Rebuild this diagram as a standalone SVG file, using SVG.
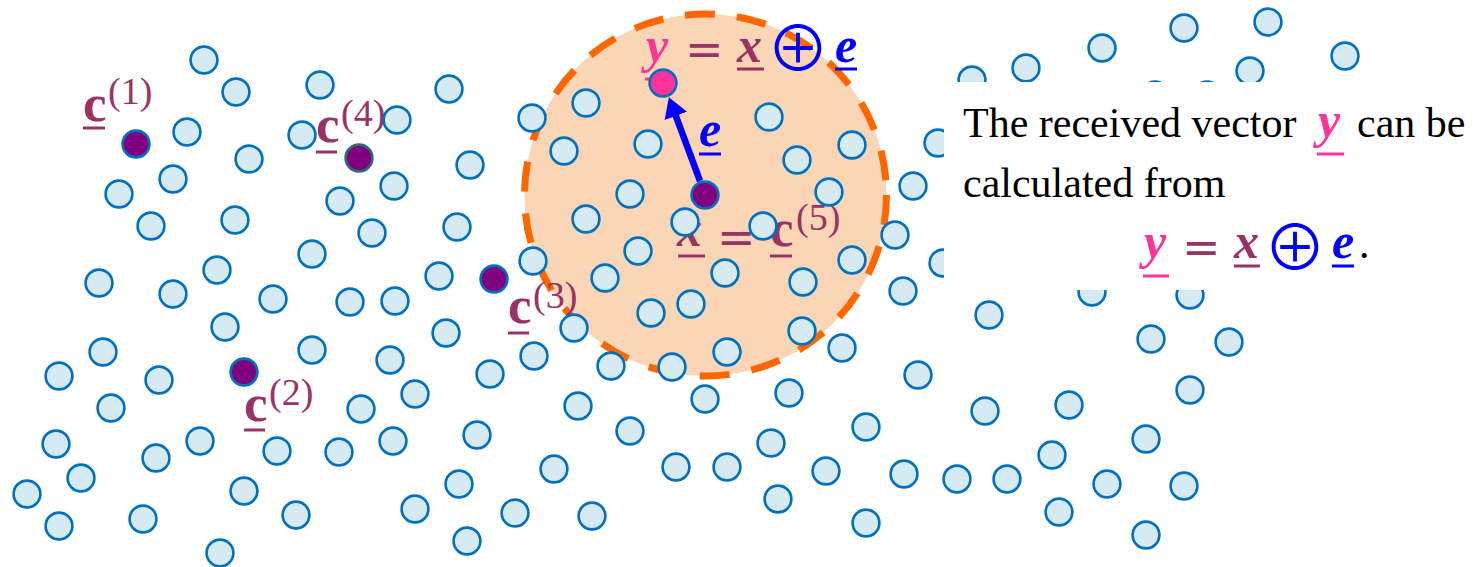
<svg xmlns="http://www.w3.org/2000/svg" width="1477" height="567" viewBox="0 0 1477 567">
<defs>
<style>
.d{fill:#D5EAF2;stroke:#0070C0;stroke-width:2.6}
.pu{fill:#800080;stroke:#0070C0;stroke-width:2.6}
.cb{font-family:"Liberation Serif",serif;font-weight:bold;font-size:53px;fill:#993366}
.sup{font-family:"Liberation Serif",serif;font-size:38px;fill:#993366}
.bi{font-family:"Liberation Serif",serif;font-weight:bold;font-style:italic;font-size:50px}
.eq{font-family:"DejaVu Sans",sans-serif;font-size:46px;fill:#993366}
.op{font-family:"Noto Sans CJK JP",sans-serif;font-weight:350;font-size:63px;fill:#0000FF}
.t{font-family:"Liberation Serif",serif;font-size:42px;fill:#000}
.ul{stroke-width:3}
</style>
<marker id="ah" viewBox="0 0 20 24" refX="1" refY="12" markerWidth="20" markerHeight="24" markerUnits="userSpaceOnUse" orient="auto">
<path d="M0,0 L20,12 L0,24 z" fill="#0000FF"/>
</marker>
</defs>
<rect width="1477" height="567" fill="#fff"/>
<g id="radius">
<circle cx="705.5" cy="195" r="181" fill="#FBD6B6" stroke="#FF6600" stroke-width="7" stroke-dasharray="30 22"/>
</g>
<g id="labels">
<g id="label-c1"><text class="cb" x="83" y="121">c</text><text class="sup" x="108" y="104">(1)</text><line class="ul" x1="83" y1="128" x2="105" y2="128" stroke="#993366"/></g>
<g id="label-c4"><text class="cb" x="316" y="142">c</text><text class="sup" x="341" y="126">(4)</text><line class="ul" x1="316" y1="152" x2="337" y2="152" stroke="#993366"/></g>
<g id="label-c2"><text class="cb" x="244" y="421">c</text><text class="sup" x="269" y="405">(2)</text><line class="ul" x1="244" y1="430" x2="265" y2="430" stroke="#993366"/></g>
<g id="label-c3"><text class="cb" x="508" y="323">c</text><text class="sup" x="533" y="308">(3)</text><line class="ul" x1="508" y1="333" x2="529" y2="333" stroke="#993366"/></g>
<g id="label-c5">
<text class="bi" x="677" y="246" fill="#993366">x</text><line class="ul" x1="678" y1="256" x2="705" y2="256" stroke="#993366"/>
<text class="eq" x="717" y="253">=</text>
<text class="cb" x="770" y="246">c</text><line class="ul" x1="770" y1="256" x2="792" y2="256" stroke="#993366"/>
<text class="sup" x="796" y="230">(5)</text>
</g>
<g id="label-top">
<text class="bi" x="646" y="62" fill="#FF3399">y</text><line class="ul" x1="645" y1="79" x2="672" y2="79" stroke="#FF3399"/>
<text class="eq" x="685" y="65">=</text>
<text class="bi" x="737" y="62" fill="#993366">x</text><line class="ul" x1="737" y1="69" x2="764" y2="69" stroke="#993366"/>
<text class="op" x="766.5" y="71.4">⊕</text>
<text class="bi" x="835" y="62" fill="#0000FF">e</text><line class="ul" x1="835" y1="69" x2="857" y2="69" stroke="#0000FF"/>
</g>
</g>
<g id="points">
<circle class="d" cx="204" cy="60" r="13.4"/><circle class="d" cx="236" cy="92" r="13.4"/><circle class="d" cx="320" cy="85" r="13.4"/><circle class="d" cx="449" cy="89" r="13.4"/><circle class="d" cx="187" cy="132" r="13.4"/><circle class="d" cx="302" cy="135" r="13.4"/><circle class="d" cx="397" cy="120" r="13.4"/><circle class="d" cx="249" cy="159" r="13.4"/><circle class="d" cx="470" cy="165" r="13.4"/><circle class="d" cx="119" cy="194" r="13.4"/><circle class="d" cx="173" cy="179" r="13.4"/><circle class="d" cx="394" cy="186" r="13.4"/><circle class="d" cx="340" cy="201" r="13.4"/><circle class="d" cx="151" cy="226" r="13.4"/><circle class="d" cx="235" cy="220" r="13.4"/><circle class="d" cx="372" cy="233" r="13.4"/><circle class="d" cx="457" cy="227" r="13.4"/><circle class="d" cx="312" cy="254" r="13.4"/><circle class="d" cx="217" cy="270" r="13.4"/><circle class="d" cx="99" cy="283" r="13.4"/><circle class="d" cx="173" cy="294" r="13.4"/><circle class="d" cx="273" cy="299" r="13.4"/><circle class="d" cx="350" cy="302" r="13.4"/><circle class="d" cx="395" cy="301" r="13.4"/><circle class="d" cx="439" cy="276" r="13.4"/>
<circle class="d" cx="225" cy="327" r="13.4"/><circle class="d" cx="103" cy="352" r="13.4"/><circle class="d" cx="59" cy="376" r="13.4"/><circle class="d" cx="159" cy="380" r="13.4"/><circle class="d" cx="312" cy="350" r="13.4"/><circle class="d" cx="390" cy="360" r="13.4"/><circle class="d" cx="446" cy="333" r="13.4"/><circle class="d" cx="490" cy="374" r="13.4"/><circle class="d" cx="111" cy="408" r="13.4"/><circle class="d" cx="361" cy="409" r="13.4"/><circle class="d" cx="415" cy="394" r="13.4"/><circle class="d" cx="56" cy="444" r="13.4"/><circle class="d" cx="156" cy="458" r="13.4"/><circle class="d" cx="200" cy="441" r="13.4"/><circle class="d" cx="277" cy="451" r="13.4"/><circle class="d" cx="339" cy="452" r="13.4"/><circle class="d" cx="393" cy="441" r="13.4"/><circle class="d" cx="477" cy="435" r="13.4"/><circle class="d" cx="81" cy="478" r="13.4"/><circle class="d" cx="27" cy="494" r="13.4"/><circle class="d" cx="244" cy="491" r="13.4"/><circle class="d" cx="296" cy="515" r="13.4"/><circle class="d" cx="415" cy="509" r="13.4"/><circle class="d" cx="459" cy="484" r="13.4"/><circle class="d" cx="59" cy="526" r="13.4"/><circle class="d" cx="143" cy="519" r="13.4"/><circle class="d" cx="220" cy="553" r="13.4"/><circle class="d" cx="467" cy="541" r="13.4"/>
<circle class="d" cx="532" cy="118" r="13.4"/><circle class="d" cx="586" cy="103" r="13.4"/><circle class="d" cx="564" cy="151" r="13.4"/><circle class="d" cx="648" cy="144" r="13.4"/><circle class="d" cx="769" cy="117" r="13.4"/><circle class="d" cx="852" cy="145" r="13.4"/><circle class="d" cx="797" cy="160" r="13.4"/><circle class="d" cx="630" cy="194" r="13.4"/><circle class="d" cx="586" cy="219" r="13.4"/><circle class="d" cx="829" cy="192" r="13.4"/><circle class="d" cx="685" cy="222" r="13.4"/><circle class="d" cx="763" cy="226" r="13.4"/><circle class="d" cx="913" cy="186" r="13.4"/><circle class="d" cx="895" cy="235" r="13.4"/><circle class="d" cx="638" cy="251" r="13.4"/><circle class="d" cx="533" cy="261" r="13.4"/><circle class="d" cx="605" cy="278" r="13.4"/><circle class="d" cx="725" cy="273" r="13.4"/><circle class="d" cx="852" cy="260" r="13.4"/><circle class="d" cx="803" cy="282" r="13.4"/><circle class="d" cx="903" cy="291" r="13.4"/><circle class="d" cx="651" cy="313" r="13.4"/><circle class="d" cx="691" cy="304" r="13.4"/><circle class="d" cx="574" cy="328" r="13.4"/><circle class="d" cx="802" cy="331" r="13.4"/><circle class="d" cx="842" cy="348" r="13.4"/><circle class="d" cx="727" cy="352" r="13.4"/><circle class="d" cx="534" cy="356" r="13.4"/><circle class="d" cx="611" cy="366" r="13.4"/><circle class="d" cx="672" cy="367" r="13.4"/><circle class="d" cx="918" cy="375" r="13.4"/><circle class="d" cx="578" cy="406" r="13.4"/><circle class="d" cx="705" cy="399" r="13.4"/><circle class="d" cx="789" cy="393" r="13.4"/><circle class="d" cx="630" cy="431" r="13.4"/><circle class="d" cx="771" cy="443" r="13.4"/><circle class="d" cx="866" cy="427" r="13.4"/><circle class="d" cx="554" cy="469" r="13.4"/><circle class="d" cx="676" cy="467" r="13.4"/><circle class="d" cx="727" cy="467" r="13.4"/><circle class="d" cx="826" cy="471" r="13.4"/><circle class="d" cx="904" cy="474" r="13.4"/><circle class="d" cx="957" cy="479" r="13.4"/><circle class="d" cx="778" cy="499" r="13.4"/><circle class="d" cx="515" cy="513" r="13.4"/><circle class="d" cx="592" cy="516" r="13.4"/><circle class="d" cx="866" cy="523" r="13.4"/>
<circle class="d" cx="972" cy="80" r="13.4"/><circle class="d" cx="938" cy="143" r="13.4"/><circle class="d" cx="943" cy="263" r="13.4"/><circle class="d" cx="1026" cy="68" r="13.4"/><circle class="d" cx="1102" cy="48" r="13.4"/><circle class="d" cx="1184" cy="28" r="13.4"/><circle class="d" cx="1268" cy="22" r="13.4"/><circle class="d" cx="1345" cy="56" r="13.4"/><circle class="d" cx="1250" cy="71" r="13.4"/><circle class="d" cx="1155" cy="95" r="13.4"/><circle class="d" cx="1207" cy="95" r="13.4"/><circle class="d" cx="1092" cy="292" r="13.4"/><circle class="d" cx="1190" cy="295" r="13.4"/><circle class="d" cx="989" cy="315" r="13.4"/><circle class="d" cx="1151" cy="339" r="13.4"/><circle class="d" cx="1229" cy="342" r="13.4"/><circle class="d" cx="1190" cy="390" r="13.4"/><circle class="d" cx="985" cy="411" r="13.4"/><circle class="d" cx="1069" cy="405" r="13.4"/><circle class="d" cx="1146" cy="439" r="13.4"/><circle class="d" cx="1052" cy="455" r="13.4"/><circle class="d" cx="1007" cy="479" r="13.4"/><circle class="d" cx="1107" cy="484" r="13.4"/><circle class="d" cx="1184" cy="486" r="13.4"/><circle class="d" cx="1059" cy="512" r="13.4"/><circle class="d" cx="1146" cy="535" r="13.4"/>
</g>
<g id="textbox">
<rect x="944" y="82" width="533" height="208" fill="#fff"/>
<text class="t" x="963" y="137">The received vector</text>
<text class="bi" x="1318" y="137" fill="#FF3399">y</text><line class="ul" x1="1317" y1="154" x2="1344" y2="154" stroke="#FF3399"/>
<text class="t" x="1357" y="137">can be</text>
<text class="t" x="963" y="197">calculated from</text>
<text class="bi" x="1144" y="258" fill="#FF3399">y</text><line class="ul" x1="1143" y1="276" x2="1169" y2="276" stroke="#FF3399"/>
<text class="eq" x="1182" y="263">=</text>
<text class="bi" x="1234" y="258" fill="#993366">x</text><line class="ul" x1="1234" y1="266" x2="1260" y2="266" stroke="#993366"/>
<text class="op" x="1263.5" y="269.9">⊕</text>
<text class="bi" x="1332" y="258" fill="#0000FF">e</text><line class="ul" x1="1332" y1="266" x2="1354" y2="266" stroke="#0000FF"/>
<text class="t" x="1359" y="258">.</text>
</g>
<g id="codewords">
<g id="c1"><circle class="pu" cx="136" cy="144" r="13.4"/></g>
<g id="c2"><circle class="pu" cx="244" cy="372" r="13.4"/></g>
<g id="c3"><circle class="pu" cx="494" cy="279" r="13.4"/></g>
<g id="c4"><circle class="pu" cx="359" cy="158" r="13.4" style="stroke:#2F6B72"/></g>
<g id="c5"><circle class="pu" cx="705" cy="195" r="13.4"/></g>
<g id="y"><circle cx="663" cy="83" r="13.4" fill="#FF3399" stroke="#0070C0" stroke-width="2.6"/></g>
</g>
<g id="connectors">
<line x1="700" y1="181" x2="675.5" y2="115" stroke="#0000FF" stroke-width="6.5" marker-end="url(#ah)"/>
<text class="bi" x="699" y="146" fill="#0000FF">e</text><line class="ul" x1="699" y1="154" x2="721" y2="154" stroke="#0000FF"/>
</g>
</svg>
